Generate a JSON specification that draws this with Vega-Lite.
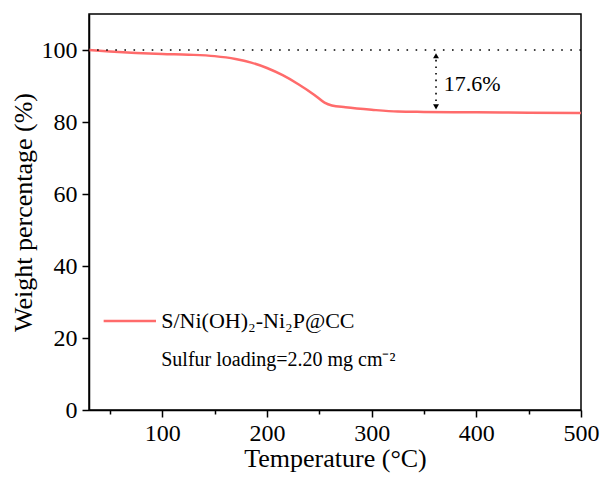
{
  "$schema": "https://vega.github.io/schema/vega-lite/v6.json",
  "width": 492,
  "height": 396,
  "autosize": {"type": "none"},
  "padding": {"left": 89, "top": 14, "right": 24, "bottom": 71},
  "background": "white",
  "config": {
    "font": "Liberation Serif",
    "view": {"stroke": "black", "strokeWidth": 1.5},
    "axis": {
      "domainColor": "black", "domainWidth": 1.5, "tickColor": "black", "tickWidth": 1.5,
      "labelFont": "Liberation Serif", "labelFontSize": 24, "labelColor": "black",
      "titleFont": "Liberation Serif", "titleFontSize": 26, "titleFontWeight": "normal", "titleColor": "black",
      "grid": false, "labelFlush": false, "labelOverlap": false
    }
  },
  "datasets": {
    "tga": [
      {"t": 30, "w": 100.0}, {"t": 50, "w": 99.6}, {"t": 75, "w": 99.2}, {"t": 100, "w": 98.9},
      {"t": 125, "w": 98.7}, {"t": 150, "w": 98.3}, {"t": 170, "w": 97.5}, {"t": 185, "w": 96.5},
      {"t": 200, "w": 95.0}, {"t": 215, "w": 93.0}, {"t": 230, "w": 90.5}, {"t": 245, "w": 87.6},
      {"t": 255, "w": 85.4}, {"t": 262, "w": 84.6}, {"t": 275, "w": 84.1}, {"t": 300, "w": 83.4},
      {"t": 325, "w": 82.9}, {"t": 350, "w": 82.8}, {"t": 400, "w": 82.7}, {"t": 450, "w": 82.6},
      {"t": 500, "w": 82.5}
    ],
    "one": [{}]
  },
  "layer": [
    {
      "data": {"name": "tga"},
      "mark": {"type": "line", "color": "#FF6B6B", "strokeWidth": 2.5, "interpolate": "monotone", "clip": true},
      "encoding": {
        "x": {"field": "t", "type": "quantitative", "scale": {"domain": [30, 500], "nice": false, "zero": false},
          "title": "Temperature (°C)",
          "axis": {"values": [50, 100, 150, 200, 250, 300, 350, 400, 450, 500],
            "labelExpr": "datum.value % 100 === 0 ? datum.label : ''",
            "tickSize": {"condition": {"test": "datum.value % 100 === 0", "value": 7}, "value": 4},
            "labelPadding": 4, "titlePadding": 0}},
        "y": {"field": "w", "type": "quantitative", "scale": {"domain": [0, 110], "nice": false},
          "title": "Weight percentage (%)",
          "axis": {"values": [0, 10, 20, 30, 40, 50, 60, 70, 80, 90, 100],
            "labelExpr": "datum.value % 20 === 0 ? datum.label : ''",
            "tickSize": {"condition": {"test": "datum.value % 20 === 0", "value": 7}, "value": 4},
            "labelPadding": 5, "titlePadding": 5}}
      }
    },
    {
      "data": {"name": "one"},
      "mark": {"type": "rule", "color": "black", "strokeWidth": 1.6, "strokeDash": [1.6, 7.5]},
      "encoding": {"y": {"datum": 100}}
    },
    {
      "data": {"name": "one"},
      "mark": {"type": "rule", "color": "black", "strokeWidth": 1.6, "strokeDash": [1.6, 5]},
      "encoding": {"x": {"datum": 361.5}, "y": {"datum": 84}, "y2": {"datum": 98.5}}
    },
    {
      "data": {"name": "one"},
      "mark": {"type": "point", "shape": "triangle-up", "filled": true, "color": "black", "size": 35, "opacity": 1},
      "encoding": {"x": {"datum": 361.5}, "y": {"datum": 98.4}}
    },
    {
      "data": {"name": "one"},
      "mark": {"type": "point", "shape": "triangle-down", "filled": true, "color": "black", "size": 35, "opacity": 1},
      "encoding": {"x": {"datum": 361.5}, "y": {"datum": 84.2}}
    },
    {
      "data": {"name": "one"},
      "mark": {"type": "text", "text": "17.6%", "align": "left", "baseline": "middle", "fontSize": 22, "font": "Liberation Serif", "color": "black"},
      "encoding": {"x": {"datum": 369}, "y": {"datum": 90.5}}
    },
    {
      "data": {"name": "one"},
      "mark": {"type": "rule", "color": "#FF6B6B", "strokeWidth": 2.5},
      "encoding": {"x": {"datum": 44}, "x2": {"datum": 94}, "y": {"datum": 24.7}}
    },
    {
      "data": {"name": "one"},
      "mark": {"type": "text", "text": "S/Ni(OH)₂-Ni₂P@CC", "align": "left", "baseline": "middle", "fontSize": 22, "font": "Liberation Serif", "color": "black"},
      "encoding": {"x": {"datum": 99}, "y": {"datum": 24.7}}
    },
    {
      "data": {"name": "one"},
      "mark": {"type": "text", "text": "Sulfur loading=2.20 mg cm⁻²", "align": "left", "baseline": "middle", "fontSize": 20, "font": "Liberation Serif", "color": "black"},
      "encoding": {"x": {"datum": 99}, "y": {"datum": 14}}
    }
  ]
}
